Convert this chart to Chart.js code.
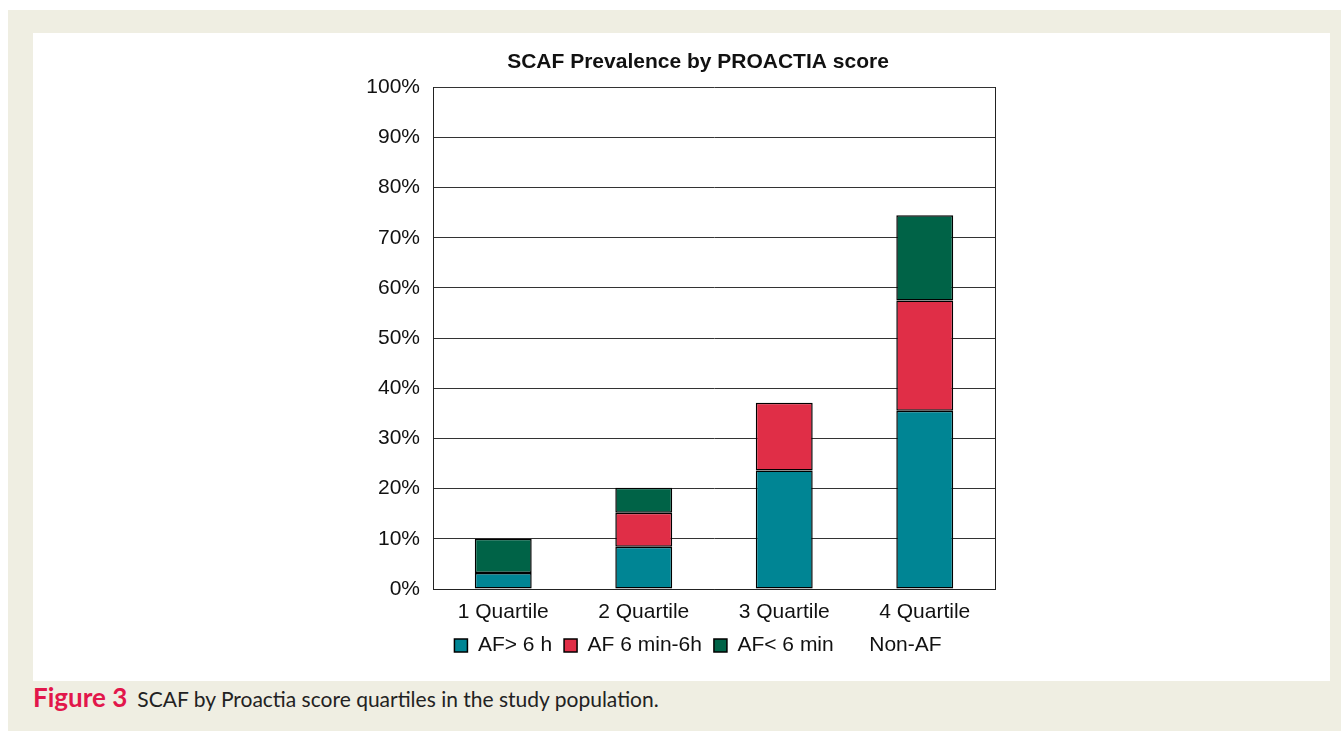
<!DOCTYPE html>
<html>
<head>
<meta charset="utf-8">
<script src="https://cdn.jsdelivr.net/npm/chart.js@4"></script>
<style>
  html, body { margin: 0; padding: 0; background: #ffffff; }
  #page { position: absolute; left: 8px; top: 10px; width: 1333px; height: 721px; background: #efeee2; }
  #panel { position: absolute; left: 33px; top: 33px; width: 1297px; height: 648px; background: #ffffff; }
  #wrap { position: absolute; left: 340px; top: 40px; width: 716px; height: 626px; }
  #caption { position: absolute; left: 33px; top: 681px; font-family: Lato, 'Open Sans', sans-serif; font-size: 21px; color: #222; }
  #caption b { color: #e2174b; font-size: 26px; margin-right: 10px; }
</style>
</head>
<body>
<div id="page"></div>
<div id="panel"></div>
<div id="wrap"><canvas id="barchart"></canvas></div>
<div id="caption"><b>Figure 3</b>SCAF by Proactia score quartiles in the study population.</div>
<script>
var quartiles = ["1 Quartile", "2 Quartile", "3 Quartile", "4 Quartile"];
var afOver6h = [3.2, 8.4, 23.6, 35.5];
var af6minTo6h = [0, 6.8, 13.5, 22.0];
var afUnder6min = [6.8, 5.0, 0, 17.0];
var nonAF = [90.0, 79.8, 62.9, 25.5];
var yTicks = [0, 10, 20, 30, 40, 50, 60, 70, 80, 90, 100];

var font = "'Liberation Sans', Arial, sans-serif";

new Chart(document.getElementById("barchart"), {
  type: 'bar',
  data: {
    labels: quartiles,
    datasets: [{
        label: "AF> 6 h",
        data: afOver6h,
        backgroundColor: "#008594",
        borderColor: "#000000",
        borderWidth: 1.5,
        borderSkipped: false,
      }, {
        label: "AF 6 min-6h",
        data: af6minTo6h,
        backgroundColor: "#e02e47",
        borderColor: "#000000",
        borderWidth: 1.5,
        borderSkipped: false,
      }, {
        label: "AF< 6 min",
        data: afUnder6min,
        backgroundColor: "#006347",
        borderColor: "#000000",
        borderWidth: 1.5,
        borderSkipped: false,
      }, {
        label: "Non-AF",
        data: nonAF,
        backgroundColor: "rgba(0,0,0,0)",
        borderColor: "rgba(0,0,0,0)",
        borderWidth: 0,
      }
    ]
  },
  options: {
    responsive: true,
    maintainAspectRatio: false,
    animation: false,
    barPercentage: 0.405,
    categoryPercentage: 1,
    layout: { padding: 0 },
    scales: {
      x: {
        stacked: true,
        afterFit: function (axis) { axis.height = 34; },
        grid: { display: false, drawTicks: false },
        border: { color: "#222", width: 1 },
        ticks: { color: "#111", font: { family: font, size: 21 }, padding: 11 }
      },
      y: {
        stacked: true,
        min: 0,
        max: 100,
        afterBuildTicks: function (axis) {
          axis.ticks = yTicks.map(function (v) { return { value: v }; });
        },
        afterFit: function (axis) { axis.width = 93; },
        grid: { color: "#333", lineWidth: 1, drawTicks: false },
        border: { color: "#222", width: 1 },
        ticks: {
          color: "#111",
          font: { family: font, size: 21 },
          padding: 13,
          callback: function (v) { return v + "%"; }
        }
      },
      y2: {
        position: 'right',
        display: true,
        afterFit: function (axis) { axis.width = 61; },
        grid: { drawOnChartArea: false, drawTicks: false },
        border: { color: "#222", width: 1 },
        ticks: { display: false }
      }
    },
    plugins: {
      title: {
        display: true,
        text: 'SCAF Prevalence by PROACTIA score',
        color: "#111",
        font: { family: font, size: 21, weight: 'bold' },
        padding: { top: 10, bottom: 12 }
      },
      legend: {
        display: true,
        position: 'bottom',
        labels: {
          color: "#111",
          font: { family: font, size: 21 },
          boxWidth: 13,
          boxHeight: 13,
          padding: 12
        }
      },
      tooltip: { enabled: false }
    }
  }
});
</script>
</body>
</html>
